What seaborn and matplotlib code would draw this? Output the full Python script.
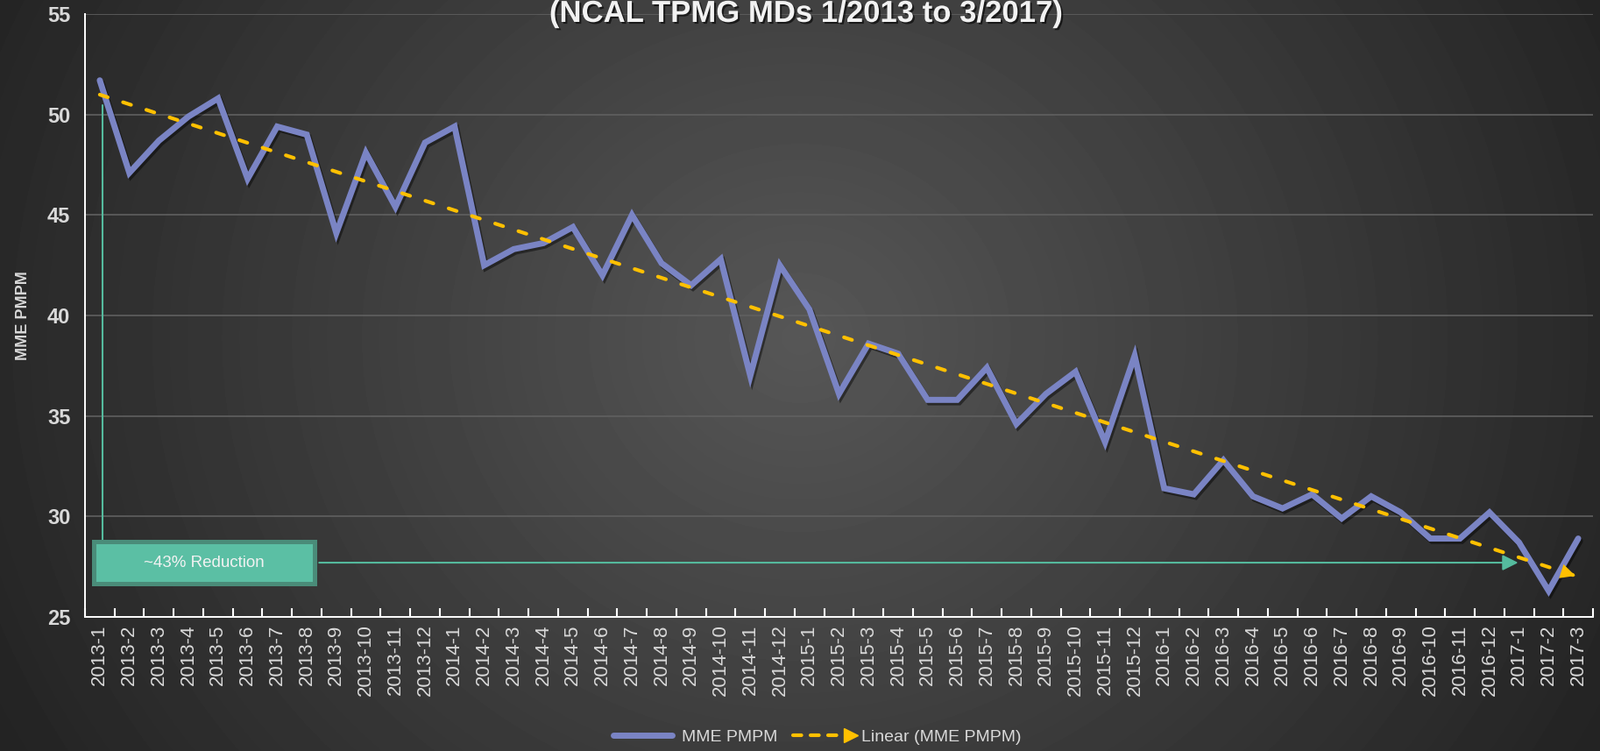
import numpy as np
import pandas as pd
import matplotlib
matplotlib.use("Agg")
import matplotlib.pyplot as plt
import matplotlib.patheffects as pe
from matplotlib.lines import Line2D
from matplotlib.patches import Rectangle
from matplotlib.legend_handler import HandlerLine2D
import seaborn as sns

sns.set_style("ticks")
plt.rcParams['font.family'] = ['Liberation Sans Narrow', 'Liberation Sans', 'DejaVu Sans']

# months 2013-1 .. 2017-3
years = [2013, 2014, 2015, 2016, 2017]
month_labels = [f"{y}-{m}" for y in years for m in range(1, 13)][:51]

# MME PMPM values
mme = [51.7, 47.1, 48.7, 49.9, 50.8, 46.8, 49.4, 49.0, 44.1, 48.1, 45.4, 48.6,
       49.4, 42.5, 43.3, 43.6, 44.4, 42.0, 45.0, 42.6, 41.5, 42.8, 37.0, 42.5,
       40.3, 36.1, 38.6, 38.1, 35.8, 35.8, 37.4, 34.6, 36.1, 37.2, 33.7, 38.0,
       31.4, 31.1, 32.8, 31.0, 30.4, 31.1, 29.9, 31.0, 30.2, 28.9, 28.9, 30.2,
       28.7, 26.3, 28.9]

y_ticks = [25, 30, 35, 40, 45, 50, 55]
title = "(NCAL TPMG MDs 1/2013 to 3/2017)"
note = "~43% Reduction"

line_col = '#7a84c4'
trend_col = '#ffc000'
green = '#55bb9e'
text_col = '#d9d9d9'


class ArrowEndHandler(HandlerLine2D):
    # legend sample: dashed line with a single arrow head on the right
    def create_artists(self, legend, orig_handle, xdescent, ydescent, width, height, fontsize, trans):
        arts = super().create_artists(legend, orig_handle, xdescent, ydescent, width, height, fontsize, trans)
        for a in arts:
            if isinstance(a, Line2D):
                a.set_markevery([len(a.get_xdata()) - 1])
        return arts


df = pd.DataFrame({'idx': np.arange(len(mme)), 'month': month_labels, 'MME PMPM': mme})
coef = np.polyfit(df['idx'], df['MME PMPM'], 1)
df['trend'] = np.polyval(coef, df['idx'])

W, H = 1826, 857
fig = plt.figure(figsize=(W / 100, H / 100), dpi=100)

# dark radial background
bg = fig.add_axes([0, 0, 1, 1], zorder=0)
yy, xx = np.mgrid[0:1:H * 1j, 0:1:W * 1j]
r = np.clip(np.sqrt(((xx - 0.5) / 0.56) ** 2 + ((yy - 0.45) / 1.1) ** 2), 0, 1)
bg.imshow(0.34 - 0.2 * r, cmap='gray', vmin=0, vmax=1, aspect='auto')
bg.axis('off')

ax = fig.add_axes([97 / W, 1 - 704 / H, (1818 - 97) / W, (704 - 16) / H], zorder=1)
ax.patch.set_alpha(0)

shadow = [pe.SimpleLineShadow(offset=(1.5, -2), shadow_color='black', alpha=0.45), pe.Normal()]
sns.lineplot(data=df, x='idx', y='MME PMPM', color=line_col, linewidth=5,
             solid_joinstyle='miter', ax=ax, path_effects=shadow, zorder=4)
sns.lineplot(data=df, x='idx', y='trend', color=trend_col, linewidth=3,
             dashes=False, ax=ax, zorder=5)
trend_line = ax.lines[-1]
trend_line.set_dashes((2.3, 4.4))
trend_line.set_dash_capstyle('round')
n = len(mme)
ax.annotate('', xy=(n - 1.1, df['trend'].iloc[-1] + coef[0] * -0.1),
            xytext=(n - 1.6, df['trend'].iloc[-1] + coef[0] * -0.6),
            arrowprops=dict(arrowstyle='-|>', color=trend_col, mutation_scale=30,
                            lw=0, shrinkA=0, shrinkB=0), zorder=6)

# reduction callout
ax.plot([0.1, 0.1], [50.45, 28.85], color=green, lw=1.5, zorder=3)
ax.add_patch(Rectangle((-0.2, 26.65), 7.47, 2.1, facecolor='#5bbfa4',
                       edgecolor='#4a8c79', lw=3.6, zorder=6))
ax.text(3.54, 27.7, note, ha='center', va='center', fontsize=13.5, color='#f2f2f2', zorder=7)
ax.annotate('', xy=(47.97, 27.7), xytext=(7.42, 27.7),
            arrowprops=dict(arrowstyle='-|>', color=green, lw=1.5, mutation_scale=27,
                            shrinkA=0, shrinkB=0), zorder=3)

ax.set_xlim(-0.5, n - 0.5)
ax.set_ylim(25, 55)
ax.set_yticks(y_ticks)
ax.set_yticklabels([str(t) for t in y_ticks], fontsize=17, fontweight='bold', color=text_col)
ax.set_xticks(df['idx'])
ax.set_xticklabels(df['month'], rotation=90, fontsize=16, color=text_col)
ax.set_xticks(np.arange(n + 1) - 0.5, minor=True)
ax.tick_params(axis='x', which='major', length=0, pad=6)
ax.tick_params(axis='x', which='minor', direction='in', length=7, width=1.5, color='white')
ax.tick_params(axis='y', length=0, pad=12)
ax.grid(axis='y', color='#606060', lw=1.2)
ax.set_axisbelow(True)
for s in ['top', 'right']:
    ax.spines[s].set_visible(False)
for s in ['left', 'bottom']:
    ax.spines[s].set_color('white')
    ax.spines[s].set_linewidth(1.4)
ax.set_xlabel('')
ax.set_ylabel('MME PMPM', fontsize=13, fontweight='bold', color=text_col, labelpad=14)

fig.text(0.504, 1 - 25 / H, title, ha='center', va='baseline', fontsize=25,
         fontweight='bold', color='#f2f2f2', family=['Liberation Sans', 'DejaVu Sans'],
         path_effects=[pe.withSimplePatchShadow(offset=(1.5, -1.5), shadow_rgbFace='black', alpha=0.6)])

h_main = Line2D([], [], color=line_col, lw=5, solid_capstyle='round')
h_trend = Line2D([], [], color=trend_col, lw=3, dashes=(2.3, 2.5), dash_capstyle='round',
                 marker='>', markersize=12)
fig.legend([h_main, h_trend], ['MME PMPM', 'Linear (MME PMPM)'], loc='center',
           bbox_to_anchor=(930 / W, 1 - 841 / H), ncol=2, frameon=False, fontsize=14,
           labelcolor=text_col, handlelength=4.0, numpoints=2, columnspacing=0.6,
           handletextpad=0.3, handler_map={h_trend: ArrowEndHandler()})

fig.savefig('out.png', dpi=100)
